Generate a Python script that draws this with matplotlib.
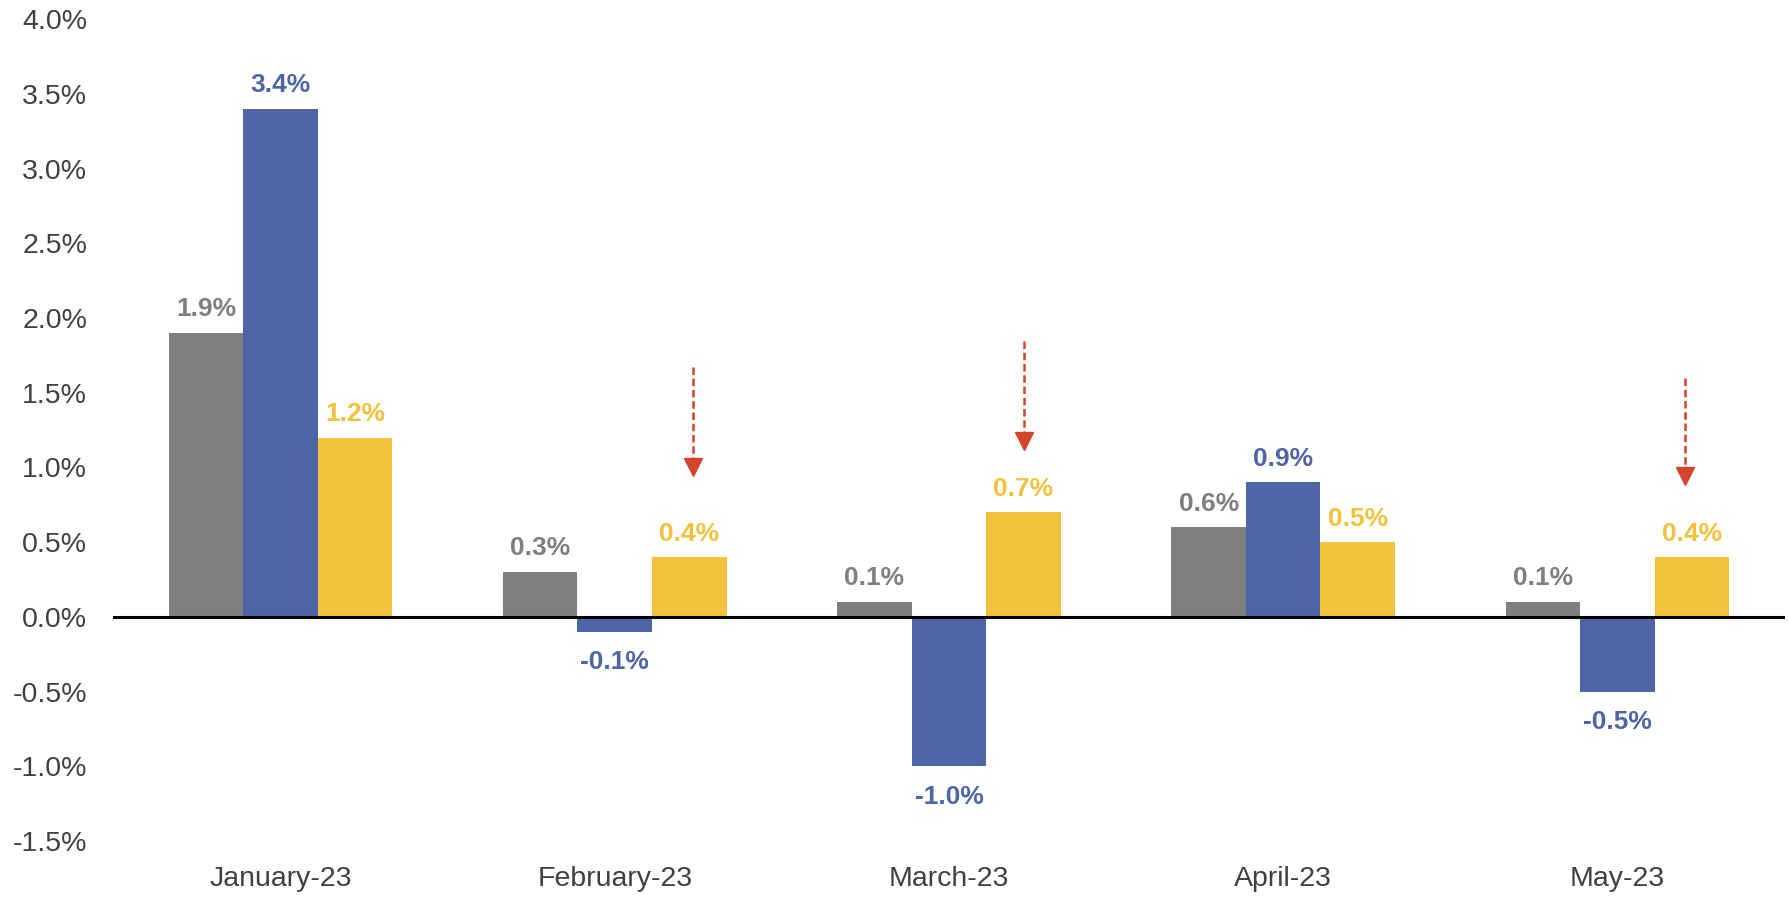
import matplotlib.pyplot as plt
import numpy as np

plt.rcParams['font.family'] = ['Liberation Sans', 'DejaVu Sans']

months = ['January-23', 'February-23', 'March-23', 'April-23', 'May-23']
gray_vals = [1.9, 0.3, 0.1, 0.6, 0.1]
blue_vals = [3.4, -0.1, -1.0, 0.9, -0.5]
yellow_vals = [1.2, 0.4, 0.7, 0.5, 0.4]

# red dashed arrows over the yellow bars: (month index, x nudge, start, tip)
arrows = [(1, 0.01, 1.67, 0.96), (2, 0.0, 1.85, 1.14), (4, -0.022, 1.60, 0.90)]

c_gray = '#7f7f7f'
c_blue = '#4f66a6'
c_yellow = '#f2c23c'
c_red = '#d4442a'

fig = plt.figure(figsize=(17.89, 8.98), dpi=100)
ax = fig.add_axes([0.0634, 0.0635, 0.9341, 0.915])

x = np.arange(len(months))
w = 0.223
series = [(gray_vals, c_gray, -w), (blue_vals, c_blue, 0), (yellow_vals, c_yellow, w)]
for vals, col, off in series:
    ax.bar(x + off, vals, w, color=col, zorder=2)
    for xi, v in zip(x, vals):
        if v >= 0:
            ax.annotate(f'{v:.1f}%', (xi + off, v), xytext=(0, 17), textcoords='offset points',
                        ha='center', va='center', fontsize=19, fontweight='bold', color=col)
        else:
            ax.annotate(f'{v:.1f}%', (xi + off, v), xytext=(0, -22), textcoords='offset points',
                        ha='center', va='center', fontsize=19, fontweight='bold', color=col)

for i, dx, y0, y1 in arrows:
    xa = x[i] + w + dx
    ax.plot([xa, xa], [y0, y1 + 0.05], color=c_red, lw=1.8, ls=(0, (3, 1.5)), zorder=3)
    ax.plot(xa, y1 + 0.04, marker='v', color=c_red, markersize=13, zorder=3)

ax.axhline(0, color='black', lw=2.2, zorder=3)
ax.set_xlim(-0.5, len(months) - 0.5)
ax.set_ylim(-1.5, 4.0)
ax.set_yticks(np.arange(-1.5, 4.01, 0.5))
ax.set_yticklabels([f'{t:.1f}%' for t in np.arange(-1.5, 4.01, 0.5)])
ax.set_xticks(x)
ax.set_xticklabels(months)
ax.tick_params(axis='y', length=0, pad=19, labelsize=20.5, labelcolor='#404040')
ax.tick_params(axis='x', length=0, pad=18, labelsize=20.5, labelcolor='#404040')
for s in ax.spines.values():
    s.set_visible(False)

plt.savefig('out.png', dpi=100)
